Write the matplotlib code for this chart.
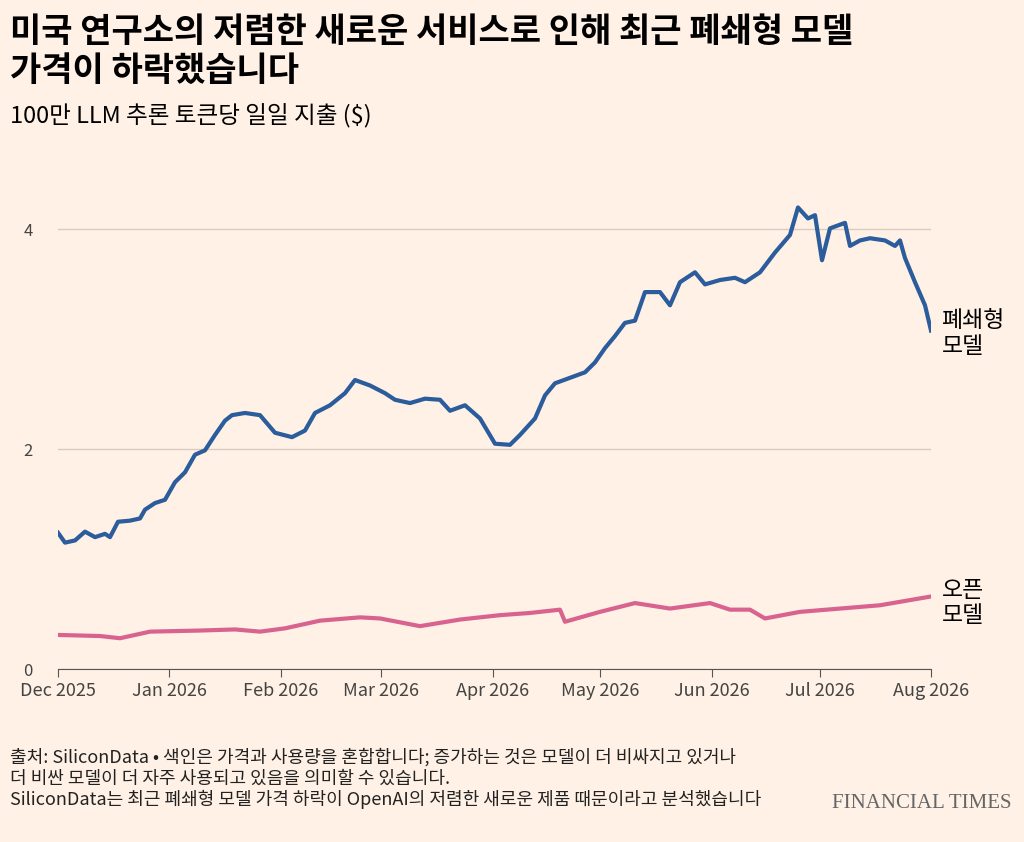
import numpy as np
import pandas as pd
import matplotlib.pyplot as plt

plt.rcParams['font.family'] = ['Noto Sans CJK KR', 'DejaVu Sans']

start = pd.Timestamp('2025-12-01')

# readings taken along the time axis in pixels (Dec 2025 = 58, Aug 2026 = 931)
closed_px = [58, 65, 75, 85, 95, 105, 110, 118, 130, 140, 145, 155, 165, 175, 185, 195, 205, 215,
             225, 232, 245, 260, 275, 292, 305, 315, 330, 345, 355, 370, 385, 395, 410, 425, 440,
             450, 465, 480, 495, 510, 520, 535, 545, 555, 570, 585, 595, 605, 615, 625, 635, 645,
             660, 670, 680, 695, 705, 720, 735, 745, 760, 775, 790, 798, 808, 815, 822, 830, 845,
             850, 860, 870, 885, 895, 900, 905, 915, 925, 931]
closed_vals = [1.24, 1.15, 1.17, 1.25, 1.20, 1.23, 1.20, 1.34, 1.35, 1.37, 1.45, 1.51, 1.54, 1.70,
               1.79, 1.95, 1.99, 2.13, 2.26, 2.31, 2.33, 2.31, 2.15, 2.11, 2.17, 2.33, 2.40, 2.51,
               2.63, 2.58, 2.51, 2.45, 2.42, 2.46, 2.45, 2.35, 2.40, 2.28, 2.05, 2.04, 2.13, 2.28,
               2.49, 2.60, 2.65, 2.70, 2.79, 2.92, 3.03, 3.15, 3.17, 3.43, 3.43, 3.31, 3.52, 3.61,
               3.50, 3.54, 3.56, 3.52, 3.61, 3.79, 3.95, 4.20, 4.10, 4.13, 3.72, 4.01, 4.06, 3.85,
               3.90, 3.92, 3.90, 3.85, 3.90, 3.74, 3.52, 3.31, 3.08]

open_px = [58, 100, 120, 150, 200, 235, 260, 285, 320, 360, 380, 420, 460, 500, 530, 560, 565,
           600, 635, 670, 710, 730, 750, 765, 800, 840, 880, 931]
open_vals = [0.31, 0.30, 0.28, 0.34, 0.35, 0.36, 0.34, 0.37, 0.44, 0.47, 0.46, 0.39, 0.45, 0.49,
             0.51, 0.54, 0.43, 0.52, 0.60, 0.55, 0.60, 0.54, 0.54, 0.46, 0.52, 0.55, 0.58, 0.66]

def to_dates(px):
    return [start + pd.Timedelta(days=(p - 58) * 243 / 873) for p in px]

months = pd.date_range('2025-12-01', '2026-08-01', freq='MS')
month_labels = [d.strftime('%b %Y') for d in months]

bg = '#FFF1E5'
fig = plt.figure(figsize=(10.24, 8.42), dpi=100, facecolor=bg)
ax = fig.add_axes([58 / 1024, 1 - 669 / 842, 873 / 1024, 489 / 842], facecolor=bg)

ax.plot(to_dates(closed_px), closed_vals, color='#2B5C9B', lw=3, solid_joinstyle='round')
ax.plot(to_dates(open_px), open_vals, color='#D9638F', lw=3, solid_joinstyle='round')

ax.set_ylim(0, 4.45)
ax.set_xlim(months[0], months[-1])
ax.set_yticks([0, 2, 4])
ax.set_xticks(months)
ax.set_xticklabels(month_labels)
ax.grid(axis='y', color='#D8CCC2', lw=1)
ax.set_axisbelow(True)
for s in ['left', 'right', 'top']:
    ax.spines[s].set_visible(False)
ax.spines['bottom'].set_color('#555555')
ax.tick_params(axis='y', length=0, pad=18, labelsize=12, colors='#444444')
ax.tick_params(axis='x', length=6, color='#555555', labelsize=13, colors='#444444')

ax.text(1.012, 3.05, '폐쇄형\n모델', transform=ax.get_yaxis_transform(), fontsize=16.5,
        va='center', ha='left', linespacing=1.15)
ax.text(1.012, 0.6, '오픈\n모델', transform=ax.get_yaxis_transform(), fontsize=16.5,
        va='center', ha='left', linespacing=1.15)

fig.text(10 / 1024, 1 - 14 / 842, '미국 연구소의 저렴한 새로운 서비스로 인해 최근 폐쇄형 모델\n가격이 하락했습니다',
         fontsize=24.5, fontweight='bold', va='top', linespacing=1.15)
fig.text(10 / 1024, 1 - 104 / 842, '100만 LLM 추론 토큰당 일일 지출 ($)', fontsize=17, va='top')
fig.text(10 / 1024, 1 - 748 / 842,
         '출처: SiliconData • 색인은 가격과 사용량을 혼합합니다; 증가하는 것은 모델이 더 비싸지고 있거나\n'
         '더 비싼 모델이 더 자주 사용되고 있음을 의미할 수 있습니다.\n'
         'SiliconData는 최근 폐쇄형 모델 가격 하락이 OpenAI의 저렴한 새로운 제품 때문이라고 분석했습니다',
         fontsize=13, va='top', linespacing=1.2, color='#222222')
fig.text(1012 / 1024, 1 - 803 / 842, 'FINANCIAL TIMES', fontsize=15, ha='right', va='center',
         family='Liberation Serif', color='#666666')

fig.savefig('out.png', dpi=100, facecolor=bg)
